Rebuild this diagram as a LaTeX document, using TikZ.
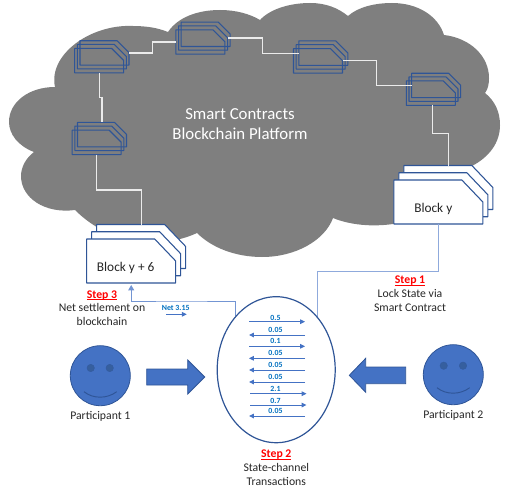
\documentclass[tikz,border=0pt]{standalone}
\usepackage{fontspec}
\setmainfont{Carlito}
\usetikzlibrary{shapes.geometric,arrows.meta}
\definecolor{cloudgrey}{HTML}{7F7F7F}
\definecolor{navy}{HTML}{2F5597}
\definecolor{faceblue}{HTML}{4472C4}
\definecolor{eyeblue}{HTML}{365F9E}
\definecolor{feed}{HTML}{8FAADC}
\definecolor{amount}{HTML}{0070C0}
\newsavebox{\stepbox}
\newcommand{\stepword}[1]{\sbox{\stepbox}{\color{red}\textbf{#1}}{\color{red}\rlap{\rule[-1.1pt]{\wd\stepbox}{0.5pt}}}\usebox{\stepbox}}
% a stack layer: an invisible rectangle node with a snipped outline drawn on its anchors
\newcommand{\smalllayer}[3]{%
  \node[smallbox] (#1) at (#2,#3) {};
  \draw[snip] (#1.south west) -- (#1.north west) -- ([xshift=-9pt]#1.north east) -- ([yshift=-9pt]#1.north east) -- (#1.south east) -- cycle;}
\newcommand{\biglayer}[3]{%
  \node[bigbox] (#1) at (#2,#3) {};
  \draw[snip,fill=white] (#1.south west) -- (#1.north west) -- ([xshift=-15.75pt]#1.north east) -- ([yshift=-16.5pt]#1.north east) -- (#1.south east) -- cycle;}
\tikzset{
  x=0.75pt,y=-0.75pt,
  smallbox/.style={rectangle,minimum width=36.75pt,minimum height=18.3pt,inner sep=0pt,outer sep=0pt},
  bigbox/.style={rectangle,minimum width=66.75pt,minimum height=33pt,inner sep=0pt,outer sep=0pt},
  snip/.style={draw=navy,line width=0.8pt,line join=round},
  chainlink/.style={draw=white!92!black,line width=0.9pt},
  feedline/.style={draw=feed,line width=0.75pt},
  netline/.style={draw=faceblue!75!white,line width=0.75pt},
  flow/.style={draw=faceblue,line width=0.7pt,-{Triangle[length=3.6pt,width=3.4pt]}},
  caption/.style={font=\fontsize{8.8pt}{10.3pt}\selectfont,text=black!85,inner sep=0pt,align=center},
  amountlabel/.style={font=\fontsize{5.9pt}{6.5pt}\selectfont\bfseries,text=amount,inner sep=0pt},
  face/.style={circle,minimum size=45pt,inner sep=0pt,outer sep=0pt,fill=faceblue,draw=navy,line width=0.6pt},
  eye/.style={circle,minimum size=5.6pt,inner sep=0pt,fill=eyeblue,draw=navy!80!faceblue,line width=0.3pt},
  smile/.style={draw=navy,line width=0.7pt},
  fatarrow/.style={fill=faceblue,draw=navy,line width=0.6pt},
}
\begin{document}
\begin{tikzpicture}
\useasboundingbox (0,0) rectangle (523,499);
% cloud
\fill[cloudgrey] (55,87)
  .. controls (48,55) and (90,24) .. (133,26)
  .. controls (147,26) and (158,28) .. (168,32)
  .. controls (178,17) and (198,10) .. (220,10)
  .. controls (236,10) and (250,14) .. (260,20)
  .. controls (270,9) and (290,3) .. (310,3)
  .. controls (326,3) and (338,8) .. (348,16)
  .. controls (358,7) and (375,3) .. (392,3)
  .. controls (418,3) and (438,16) .. (444,35)
  .. controls (470,38) and (489,56) .. (489,78)
  .. controls (489,84) and (488,89) .. (485,93)
  .. controls (495,101) and (500,112) .. (500,125)
  .. controls (500,143) and (489,157) .. (472,166)
  -- (420,215) -- (393,224)
  .. controls (372,227) and (350,225) .. (333,218)
  .. controls (325,240) and (296,257) .. (262,257)
  .. controls (236,257) and (212,248) .. (197,233)
  .. controls (160,250) and (110,245) .. (75,210)
  .. controls (45,214) and (21,198) .. (21,176)
  .. controls (21,167) and (26,158) .. (34,152)
  .. controls (18,146) and (9,134) .. (9,122)
  .. controls (9,102) and (29,87) .. (55,87) -- cycle;
% small block stacks
\smalllayer{s1c}{104.5}{52.95}
\smalllayer{s1b}{101.9}{56.65}
\smalllayer{s1a}{99.2}{60.65}
\smalllayer{s2c}{205.65}{34.3}
\smalllayer{s2b}{203.05}{38}
\smalllayer{s2a}{200.35}{42}
\smalllayer{s3c}{102}{134.65}
\smalllayer{s3b}{99.35}{138.35}
\smalllayer{s3a}{96.65}{142.35}
\smalllayer{s4c}{323.3}{53.15}
\smalllayer{s4b}{320.7}{56.85}
\smalllayer{s4a}{318}{60.85}
\smalllayer{s5c}{436.1}{85.45}
\smalllayer{s5b}{433.5}{89.15}
\smalllayer{s5a}{430.8}{93.15}
% big block stacks
\biglayer{byc}{448.35}{187.5}
\biglayer{byb}{443.35}{194.75}
\biglayer{bya}{438.35}{202}
\biglayer{bzc}{141.2}{246.5}
\biglayer{bzb}{136.2}{253.75}
\biglayer{bza}{131.2}{261}
\node[font=\fontsize{10pt}{12pt}\selectfont,text=black!85,inner sep=0pt] (tby) at (433.3,209) {Block y};
\node[font=\fontsize{10pt}{12pt}\selectfont,text=black!85,inner sep=0pt] (tbz) at (125.7,267.7) {Block y + 6};
% white chain links
\coordinate (m12) at (152.7,47);
\coordinate (m24) at (262.7,45);
\coordinate (m45) at (376.7,73);
\coordinate (m5y) at (440,133.3);
\coordinate (m13) at (100.5,97.7);
\coordinate (m3z) at (120,190);
\draw[chainlink] (s1c.east) -| (m12) |- (s2a.west);
\draw[chainlink] (s2b.east) -| (m24) |- (s4c.west);
\draw[chainlink] (s4a.east) -| (m45) |- (s5c.west);
\draw[chainlink] ([xshift=1.5pt]s5a.south) |- (m5y) -| (byc.north);
\draw[chainlink] (s1a.south) |- (m13) -| (s3c.north);
\draw[chainlink] (s3a.south) |- (m3z) -| (bzc.north);
\node[font=\fontsize{12.6pt}{15pt}\selectfont,text=white,align=center,inner sep=0pt] (title) at (240,124) {Smart Contracts\\Blockchain Platform};
% feed lines to the ellipse
\coordinate (ellr) at (317.3,320);
\coordinate (elll) at (235,320);
\coordinate (fr) at (378,271.7);
\coordinate (nl) at (180,301);
\draw[feedline] (bya.south) |- (fr) -| (ellr);
\draw[netline,-{Triangle[length=4pt,width=4.4pt]}] (elll) |- (nl) -| ([yshift=-1.5pt]bza.south);
% channel ellipse
\node[ellipse,minimum width=88.5pt,minimum height=109.5pt,inner sep=0pt,outer sep=0pt,fill=white,draw=navy,line width=0.9pt] (chan) at (276.2,369.7) {};
\foreach \i/\yy/\xa/\xb/\lab/\ty in {
  1/321.7/249/305/0.5/317.7,
  2/335/305/249/0.05/330,
  3/346.3/249/305/0.1/341,
  4/358.3/305/249/0.05/353,
  5/370/305/249/0.05/365,
  6/382/305/249/0.05/377,
  7/393.7/250/306.5/2.1/389,
  8/405/250/306.5/0.7/400.7,
  9/416/305/249/0.05/411.3}{
  \coordinate (fa\i) at (\xa,\yy);
  \coordinate (fb\i) at (\xb,\yy);
  \draw[flow] (fa\i) -- (fb\i);
  \node[amountlabel] (fl\i) at (275.5,\ty) {\lab};
}
\node[amountlabel] (netlab) at (175.7,307.7) {Net 3.15};
\coordinate (na) at (166,314.3);
\coordinate (nb) at (186.7,314.3);
\draw[flow] (na) -- (nb);
% captions
\node[caption] (step1) at (410,293.7) {\stepword{Step 1}\\Lock State via\\Smart Contract};
\node[caption] (step2) at (276.3,467.7) {\stepword{Step 2}\\State-channel\\Transactions};
\node[caption] (step3) at (102,308) {\stepword{Step 3}\\Net settlement on\\blockchain};
% participants
\node[face] (p1) at (100.3,375.7) {};
\node[eye] (p1l) at (90.7,368) {};
\node[eye] (p1r) at (109.7,368) {};
\draw[smile] (84,391.7) .. controls (93,399) and (107,399) .. (116.7,391.7);
\node[face] (p2) at (453.3,374.7) {};
\node[eye] (p2l) at (443.7,365.7) {};
\node[eye] (p2r) at (463,365.7) {};
\draw[smile] (437,387.7) .. controls (446,395) and (460,395) .. (469.7,387.7);
\node[caption] (n1) at (100.3,416.5) {Participant 1};
\node[caption] (n2) at (453.3,415.7) {Participant 2};
% block arrows
\draw[fatarrow] (146.7,369) -- (187.7,369) -- (187.7,360) -- (204.7,377) -- (187.7,394) -- (187.7,385) -- (146.7,385) -- cycle;
\draw[fatarrow] (405.7,367) -- (365.7,367) -- (365.7,358.3) -- (349.3,375.3) -- (365.7,392.3) -- (365.7,383.7) -- (405.7,383.7) -- cycle;
\end{tikzpicture}
\end{document}
